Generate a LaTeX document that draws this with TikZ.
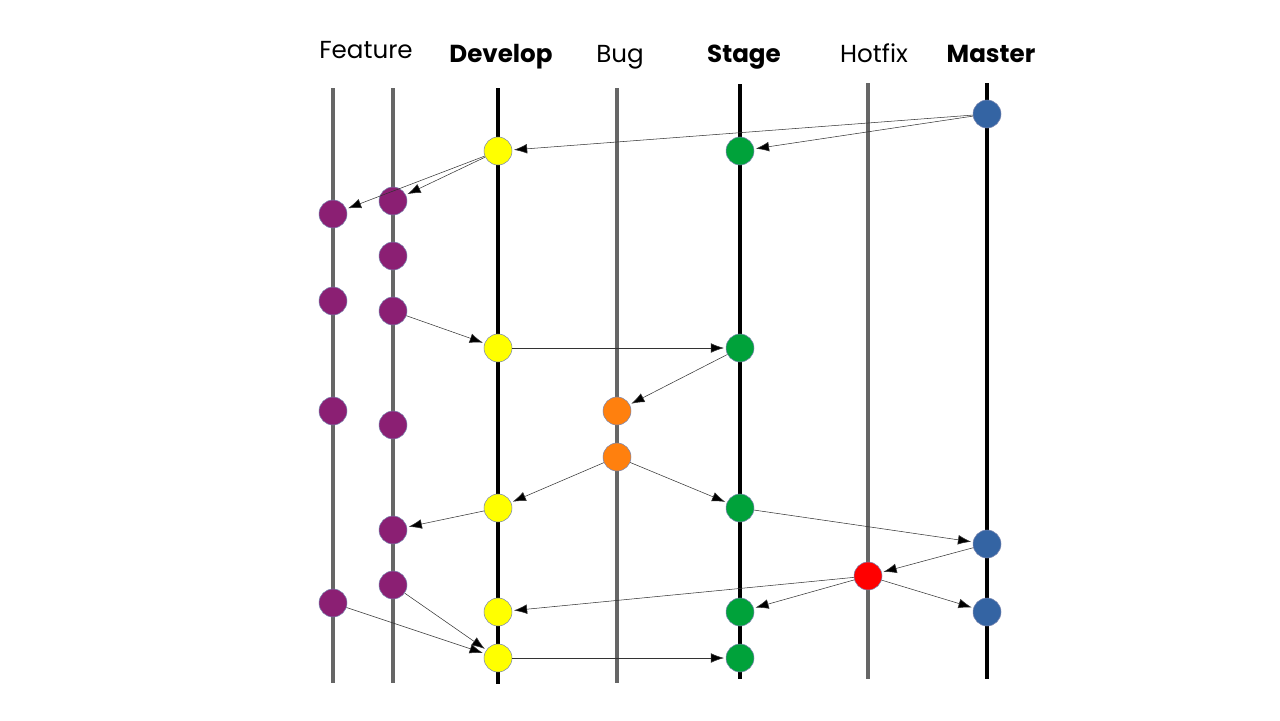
\documentclass[tikz,border=0pt]{standalone}
\usepackage{fontspec}
\setmainfont{Poppins}
\usepackage{tikz}
\usetikzlibrary{arrows.meta}

\definecolor{featc}{HTML}{8B1F73}
\definecolor{devc}{HTML}{FFFF00}
\definecolor{stagec}{HTML}{00A23A}
\definecolor{bugc}{HTML}{FF800E}
\definecolor{hotc}{HTML}{FF0000}
\definecolor{masterc}{HTML}{3464A3}
\definecolor{lanegray}{HTML}{666666}
\definecolor{rimc}{HTML}{7A86B0}

\begin{document}
\begin{tikzpicture}[x=0.02cm,y=-0.02cm,->,>={Latex[length=7.5pt,width=5.5pt]},
  shorten >=1pt,thin]
  \tikzstyle{every node}=[inner sep=0pt]
  \tikzstyle{commit}=[circle,minimum size=0.56cm,draw=rimc,line width=0.3pt]
  \tikzstyle{lane}=[-,line width=2.2pt,lanegray]
  \tikzstyle{main}=[-,line width=2.2pt,black]
  \tikzstyle{title}=[font=\fontsize{14}{14}\selectfont,anchor=base]
  \tikzstyle{merge}=[line width=0.3pt,draw=black!80]

  \useasboundingbox (0,0) rectangle (1280,720);

  % branch lines
  \draw[lane] (333,88) -- (333,685);
  \draw[lane] (393,88) -- (393,685);
  \draw[main] (498,88) -- (498,686);
  \draw[lane] (617,88) -- (617,685);
  \draw[main] (740,84) -- (740,681);
  \draw[lane] (868,83) -- (868,681);
  \draw[main] (987,83) -- (987,681);

  % branch names
  \node[title] (tf) at (366,58) {Feature};
  \node[title] (td) at (501,62) {\bfseries Develop};
  \node[title] (tb) at (620,62) {Bug};
  \node[title] (ts) at (744,62) {\bfseries Stage};
  \node[title] (th) at (874,62) {Hotfix};
  \node[title] (tm) at (991,62) {\bfseries Master};

  % commits
  \node[commit,fill=masterc] (M1) at (987,114) {};
  \node[commit,fill=masterc] (M2) at (987,544) {};
  \node[commit,fill=masterc] (M3) at (987,612) {};

  \node[commit,fill=stagec] (S1) at (740,151) {};
  \node[commit,fill=stagec] (S2) at (740,348) {};
  \node[commit,fill=stagec] (S3) at (740,508) {};
  \node[commit,fill=stagec] (S4) at (740,612) {};
  \node[commit,fill=stagec] (S5) at (740,658) {};

  \node[commit,fill=devc] (D1) at (498,151) {};
  \node[commit,fill=devc] (D2) at (498,348) {};
  \node[commit,fill=devc] (D3) at (498,508) {};
  \node[commit,fill=devc] (D4) at (498,612) {};
  \node[commit,fill=devc] (D5) at (498,658) {};

  \node[commit,fill=featc] (F1) at (333,214) {};
  \node[commit,fill=featc] (F2) at (333,301) {};
  \node[commit,fill=featc] (F3) at (333,411) {};
  \node[commit,fill=featc] (F4) at (333,603) {};

  \node[commit,fill=featc] (G1) at (393,201) {};
  \node[commit,fill=featc] (G2) at (393,256) {};
  \node[commit,fill=featc] (G3) at (393,311) {};
  \node[commit,fill=featc] (G4) at (393,425) {};
  \node[commit,fill=featc] (G5) at (393,530) {};
  \node[commit,fill=featc] (G6) at (393,585) {};

  \node[commit,fill=bugc] (B1) at (617,411) {};
  \node[commit,fill=bugc] (B2) at (617,457) {};

  \node[commit,fill=hotc] (H1) at (868,576) {};

  % merges
  \path[merge] (M1) edge (D1)
               (M1) edge (S1)
               (D1) edge (F1)
               (D1) edge (G1)
               (G3) edge (D2)
               (D2) edge (S2)
               (S2) edge (B1)
               (B2) edge (D3)
               (B2) edge (S3)
               (D3) edge (G5)
               (S3) edge (M2)
               (M2) edge (H1)
               (H1) edge (D4)
               (H1) edge (S4)
               (H1) edge (M3)
               (F4) edge (D5)
               (G6) edge (D5)
               (D5) edge (S5);
\end{tikzpicture}
\end{document}
